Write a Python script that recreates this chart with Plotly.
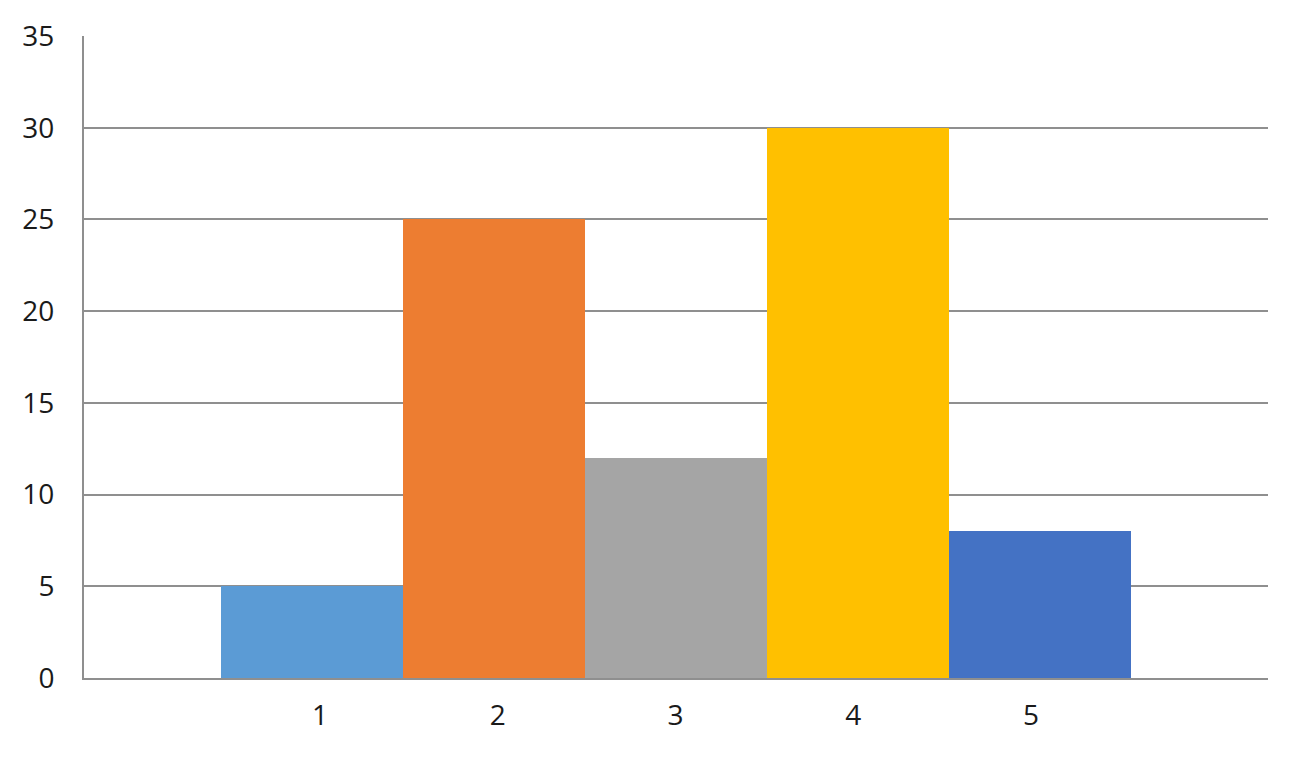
import plotly.graph_objects as go

categories = [1, 2, 3, 4, 5]
values = [5, 25, 12, 30, 8]
colors = ["#5B9BD5", "#ED7D31", "#A5A5A5", "#FFC000", "#4472C4"]
y_ticks = [0, 5, 10, 15, 20, 25, 30, 35]

fig = go.Figure()
fig.add_trace(go.Bar(x=categories, y=values, marker=dict(color=colors, line=dict(width=0)), width=1))
# invisible helper trace so the label axis is drawn
fig.add_trace(go.Scatter(x=categories, y=[None] * len(categories), xaxis="x2", mode="markers",
                         showlegend=False, hoverinfo="skip"))

fig.update_layout(
    width=1301, height=761,
    margin=dict(l=76, r=41, t=28, b=91),
    paper_bgcolor="white", plot_bgcolor="white",
    bargap=0, showlegend=False,
    font=dict(family="Open Sans, Noto Sans, sans-serif", size=28, color="#1a1a1a"),
    xaxis=dict(
        range=[-0.254, 6.254], showticklabels=False, automargin=False,
        showgrid=False, zeroline=False, showline=True, linecolor="#8f8f8f", linewidth=2, ticks="",
    ),
    xaxis2=dict(
        range=[-0.328, 6.333], overlaying="x", side="bottom", anchor="y", automargin=False,
        tickmode="array", tickvals=categories, ticktext=[str(c) for c in categories],
        showgrid=False, zeroline=False, showline=False, ticks="", ticklabelstandoff=18,
    ),
    yaxis=dict(
        range=[0, 35], tickmode="array", tickvals=y_ticks, automargin=False,
        showgrid=True, gridcolor="#8f8f8f", gridwidth=1.5,
        zeroline=False, showline=True, linecolor="#8f8f8f", linewidth=2,
        ticks="", ticklabelstandoff=22,
    ),
)
fig.write_html("out.html")
